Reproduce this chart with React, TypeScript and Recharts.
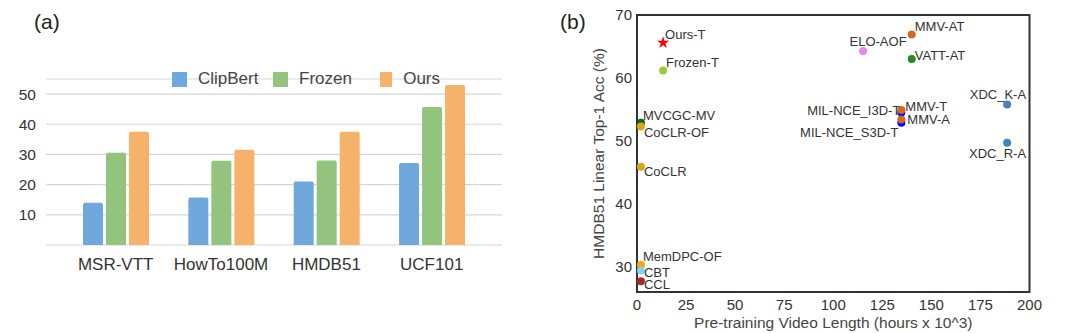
import React from 'react';
import {
  BarChart,
  Bar,
  XAxis,
  YAxis,
  CartesianGrid,
  Legend,
  ScatterChart,
  Scatter,
  ReferenceArea,
  Symbols,
} from 'recharts';

// ---------- Panel (a) data ----------
const categories = ['MSR-VTT', 'HowTo100M', 'HMDB51', 'UCF101'];
const clipBert = [14.0, 15.7, 21.0, 27.2];
const frozen = [30.6, 27.9, 28.0, 45.7];
const ours = [37.5, 31.6, 37.5, 53.0];
const barTicks = [10, 20, 30, 40, 50];
const seriesNames = ['ClipBert', 'Frozen', 'Ours'];

// ---------- Panel (b) data ----------
const methods = [
  'MVCGC-MV', 'CoCLR-OF', 'CoCLR', 'MemDPC-OF', 'CBT', 'CCL', 'Frozen-T', 'Ours-T',
  'ELO-AOF', 'MMV-AT', 'VATT-AT', 'MIL-NCE_I3D-T', 'MIL-NCE_S3D-T', 'MMV-T', 'MMV-A',
  'XDC_K-A', 'XDC_R-A',
];
const videoLengths = [2, 2, 2, 2, 2, 2, 13.3, 13.3, 115.2, 140, 140, 134.7, 134.7, 134.7, 134.7, 188.6, 188.6];
const accuracies = [52.9, 52.3, 45.9, 30.3, 29.4, 27.7, 61.2, 65.6, 64.3, 66.9, 63.0, 54.5, 52.9, 54.9, 53.4, 55.8, 49.7];
const xTicks = [0, 25, 50, 75, 100, 125, 150, 175, 200];
const yTicks = [30, 40, 50, 60, 70];

// ---------- styles ----------
const FONT = '"Liberation Sans", Arial, Helvetica, sans-serif';
const barColors = ['#6fa8dc', '#93c47d', '#f6b26b'];
const legendItemWidths = [101, 107, 60];
const methodColors = [
  '#0b640b', '#daa520', '#daa520', '#ffa500', '#87cefa', '#a52a2a', '#9acd32', '#ff0000',
  '#ee82ee', '#d2691e', '#228b22', '#0000ff', '#0000ff', '#d2691e', '#d2691e',
  '#4682b4', '#4682b4',
];
// label offsets relative to the point: [dx, dy, anchor]
const labelOffsets: [number, number, string][] = [
  [2, -7, 'start'], [3, 6, 'start'], [3, 5, 'start'], [2, -8, 'start'], [3, 2, 'start'], [3, 3.5, 'start'],
  [3, -8, 'start'], [2, -8, 'start'], [15, -9, 'middle'], [3, -8, 'start'], [3, -4, 'start'],
  [-1, -2, 'end'], [-3, 10, 'end'], [4, -4, 'start'], [6, 0, 'start'], [19, -10, 'end'], [19, 11, 'end'],
];

const barData = categories.map((c, i) => ({
  name: c,
  ClipBert: clipBert[i],
  Frozen: frozen[i],
  Ours: ours[i],
}));

const scatterData = methods.map((m, i) => ({ name: m, x: videoLengths[i], y: accuracies[i], idx: i }));

const BarLegend = (props: any) => {
  const payload = props.payload || [];
  return (
    <div style={{ display: 'flex', fontFamily: FONT, fontSize: 17, color: '#444', lineHeight: '20px' }}>
      {payload.map((p: any, i: number) => (
        <div key={p.value} style={{ width: legendItemWidths[i], display: 'flex', alignItems: 'center', flex: 'none' }}>
          <span style={{ width: 15, height: 15, background: p.color, display: 'inline-block', marginRight: 11 }} />
          <span>{p.value}</span>
        </div>
      ))}
    </div>
  );
};

const MethodShape = (props: any) => {
  const { cx, cy, payload } = props;
  const i = payload.idx;
  const [dx, dy, anchor] = labelOffsets[i];
  const color = methodColors[i];
  const isStar = payload.name === 'Ours-T';
  return (
    <g>
      {isStar ? (
        <Symbols type="star" size={46} cx={cx} cy={cy} fill={color} />
      ) : (
        <circle cx={cx} cy={cy} r={4} fill={color} />
      )}
      <text
        x={cx + dx}
        y={cy + dy}
        textAnchor={anchor as any}
        dominantBaseline="central"
        fontSize={13}
        fontFamily={FONT}
        fill="#333"
      >
        {payload.name}
      </text>
    </g>
  );
};

const YLabel = (props: any) => {
  const vb = props.viewBox;
  const x = vb.x + 58.6;
  const y = vb.y + vb.height / 2;
  return (
    <text x={x} y={y} transform={`rotate(-90, ${x}, ${y})`} textAnchor="middle" dominantBaseline="central"
      fontSize={15.5} fontFamily={FONT} fill="#444">
      HMDB51 Linear Top-1 Acc (%)
    </text>
  );
};

const XLabel = (props: any) => {
  const vb = props.viewBox;
  const x = vb.x + vb.width / 2;
  const y = vb.y + 30;
  return (
    <text x={x} y={y} textAnchor="middle" dominantBaseline="central" fontSize={15.5} fontFamily={FONT} fill="#444">
      Pre-training Video Length (hours x 10^3)
    </text>
  );
};

export default function App() {
  return (
    <div style={{ position: 'absolute', left: 0, top: 0, width: 1080, height: 333, background: '#fff', fontFamily: FONT }}>
      <div style={{ position: 'absolute', left: 34, top: 10, fontSize: 21, color: '#222' }}>(a)</div>
      <div style={{ position: 'absolute', left: 560, top: 10, fontSize: 21, color: '#222' }}>(b)</div>
      <div style={{ position: 'absolute', left: 0, top: 0 }}>
        <BarChart width={540} height={333} data={barData} margin={{ top: 79, right: 38, bottom: 0, left: 0 }}
          barSize={20} barGap={3}>
          <CartesianGrid vertical={false} stroke="#d6d6d6" strokeWidth={1.2} />
          <XAxis dataKey="name" height={88} tickLine={false} axisLine={false} padding={{ left: 17, right: 17.6 }}
            tickSize={0} tickMargin={13} tick={{ fontSize: 17, fill: '#333', fontFamily: FONT }} interval={0} />
          <YAxis width={46} domain={[0, 55]} ticks={barTicks} tickLine={false} axisLine={false} tickSize={0} tickMargin={10}
            tick={{ fontSize: 15.5, fill: '#333', fontFamily: FONT }} interval={0} />
          <Legend verticalAlign="middle" layout="horizontal" align="center"
            wrapperStyle={{ top: 69, left: 172, width: 300 }} content={BarLegend} />
          {seriesNames.map((s, i) => (
            <Bar key={s} dataKey={s} fill={barColors[i]} radius={[2, 2, 0, 0]} isAnimationActive={false} />
          ))}
        </BarChart>
      </div>
      <div style={{ position: 'absolute', left: 540, top: 0 }}>
        <ScatterChart width={540} height={333} margin={{ top: 15, right: 50.5, bottom: 0, left: 0 }}>
          <ReferenceArea x1={0} x2={200} y1={26} y2={70} fill="none" stroke="#333" strokeWidth={2} fillOpacity={0} strokeOpacity={1} />
          <XAxis type="number" dataKey="x" domain={[0, 200]} ticks={xTicks} height={41} tickLine={false} axisLine={false}
            tickSize={0} tickMargin={7} tick={{ fontSize: 15, fill: '#333', fontFamily: FONT }} interval={0} label={<XLabel />} />
          <YAxis type="number" dataKey="y" domain={[26, 70]} ticks={yTicks} width={97} tickLine={false} axisLine={false}
            tickSize={0} tickMargin={5} tick={{ fontSize: 15, fill: '#333', fontFamily: FONT }} interval={0} label={<YLabel />} />
          <Scatter data={scatterData} shape={MethodShape} isAnimationActive={false} />
        </ScatterChart>
      </div>
    </div>
  );
}
